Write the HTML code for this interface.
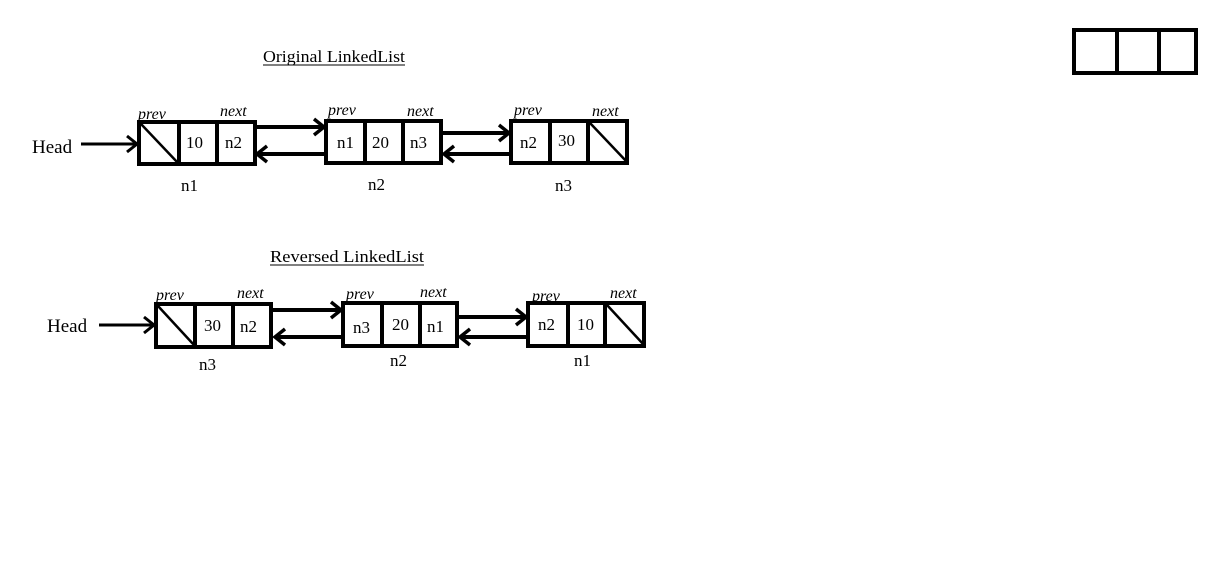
<!DOCTYPE html>
<html><head><meta charset="utf-8"><style>
html,body{margin:0;padding:0;background:#fff;}
svg text{font-family:"Liberation Serif",serif;fill:#000;}
.i{font-style:italic;font-size:16px;}
.v{font-size:17px;}
</style></head><body>
<svg width="1229" height="580" viewBox="0 0 1229 580" xmlns="http://www.w3.org/2000/svg">
<g fill="none" stroke="#000" stroke-width="4">
<rect x="1074" y="30" width="122" height="43"/>
<line x1="1117" y1="30" x2="1117" y2="73"/><line x1="1159" y1="30" x2="1159" y2="73"/>
<rect x="139" y="122" width="116" height="42"/>
<line x1="179" y1="122" x2="179" y2="164"/><line x1="217" y1="122" x2="217" y2="164"/>
<line x1="141" y1="124" x2="178" y2="163" stroke-width="2.5"/>
<rect x="326" y="121" width="115" height="42"/>
<line x1="365" y1="121" x2="365" y2="163"/><line x1="403" y1="121" x2="403" y2="163"/>
<rect x="511" y="121" width="116" height="42"/>
<line x1="550" y1="121" x2="550" y2="163"/><line x1="588" y1="121" x2="588" y2="163"/>
<line x1="590" y1="123" x2="627" y2="162" stroke-width="2.5"/>
<line x1="81" y1="144" x2="137" y2="144" stroke-width="3"/><polyline points="127,136 137,144 127,152" stroke-width="3"/>
<line x1="257" y1="127" x2="324" y2="127"/><polyline points="314,119 324,127 314,135" stroke-width="3.5"/>
<line x1="326" y1="154" x2="259" y2="154"/><polyline points="267,146 257,154 267,162" stroke-width="3.5"/>
<line x1="443" y1="133" x2="509" y2="133"/><polyline points="499,125 509,133 499,141" stroke-width="3.5"/>
<line x1="511" y1="154" x2="446" y2="154"/><polyline points="454,146 444,154 454,162" stroke-width="3.5"/>
<rect x="156" y="304" width="115" height="43"/>
<line x1="195" y1="304" x2="195" y2="347"/><line x1="233" y1="304" x2="233" y2="347"/>
<line x1="158" y1="306" x2="194" y2="345" stroke-width="2.5"/>
<rect x="343" y="303" width="114" height="43"/>
<line x1="382" y1="303" x2="382" y2="346"/><line x1="420" y1="303" x2="420" y2="346"/>
<rect x="528" y="303" width="116" height="43"/>
<line x1="568" y1="303" x2="568" y2="346"/><line x1="605" y1="303" x2="605" y2="346"/>
<line x1="607" y1="305" x2="644" y2="345" stroke-width="2.5"/>
<line x1="99" y1="325" x2="154" y2="325" stroke-width="3"/><polyline points="144,317 154,325 144,333" stroke-width="3"/>
<line x1="273" y1="310" x2="341" y2="310"/><polyline points="331,302 341,310 331,318" stroke-width="3.5"/>
<line x1="343" y1="337" x2="277" y2="337"/><polyline points="285,329 275,337 285,345" stroke-width="3.5"/>
<line x1="459" y1="317" x2="526" y2="317"/><polyline points="516,309 526,317 516,325" stroke-width="3.5"/>
<line x1="528" y1="337" x2="462" y2="337"/><polyline points="470,329 460,337 470,345" stroke-width="3.5"/>
</g>
<text x="263" y="62" font-size="17" textLength="142" lengthAdjust="spacingAndGlyphs">Original LinkedList</text>
<line x1="263" y1="65" x2="405" y2="65" stroke="#000" stroke-width="1"/>
<text x="270" y="262" font-size="17" textLength="154" lengthAdjust="spacingAndGlyphs">Reversed LinkedList</text>
<line x1="270" y1="265" x2="424" y2="265" stroke="#000" stroke-width="1"/>
<text x="32" y="153" font-size="19">Head</text>
<text class="i" x="138" y="119">prev</text><text class="i" x="220" y="116">next</text>
<text class="i" x="328" y="115">prev</text><text class="i" x="407" y="116">next</text>
<text class="i" x="514" y="115">prev</text><text class="i" x="592" y="116">next</text>
<text class="v" x="186" y="148">10</text><text class="v" x="225" y="148">n2</text>
<text class="v" x="337" y="148">n1</text><text class="v" x="372" y="148">20</text><text class="v" x="410" y="148">n3</text>
<text class="v" x="520" y="148">n2</text><text class="v" x="558" y="146">30</text>
<text class="v" x="181" y="191">n1</text><text class="v" x="368" y="190">n2</text><text class="v" x="555" y="191">n3</text>
<text x="47" y="332" font-size="19">Head</text>
<text class="i" x="156" y="300">prev</text><text class="i" x="237" y="298">next</text>
<text class="i" x="346" y="299">prev</text><text class="i" x="420" y="297">next</text>
<text class="i" x="532" y="301">prev</text><text class="i" x="610" y="298">next</text>
<text class="v" x="204" y="331">30</text><text class="v" x="240" y="332">n2</text>
<text class="v" x="353" y="333">n3</text><text class="v" x="392" y="330">20</text><text class="v" x="427" y="332">n1</text>
<text class="v" x="538" y="330">n2</text><text class="v" x="577" y="330">10</text>
<text class="v" x="199" y="370">n3</text><text class="v" x="390" y="366">n2</text><text class="v" x="574" y="366">n1</text>
</svg>
</body></html>
